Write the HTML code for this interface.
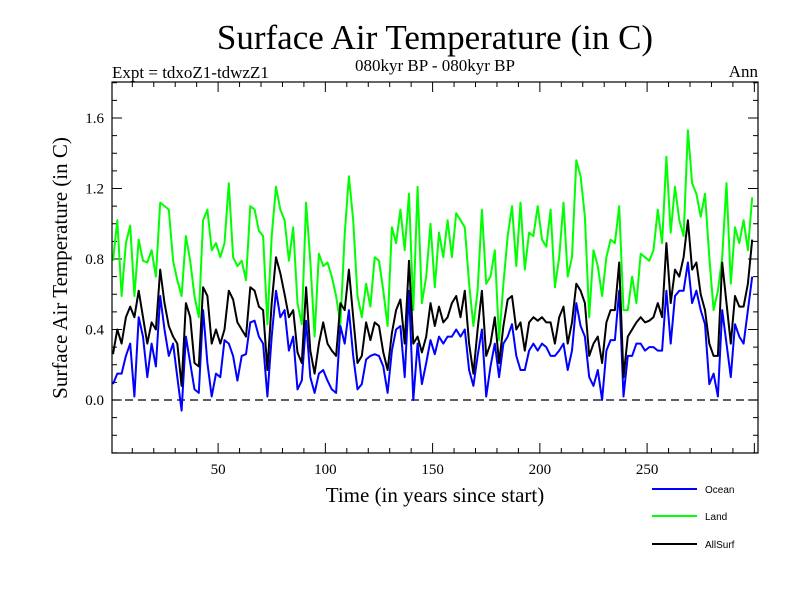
<!DOCTYPE html>
<html><head><meta charset="utf-8"><style>
body{margin:0;background:#fff;}
svg{display:block;font-family:"Liberation Serif",serif;}
</style></head><body>
<svg id="chart" width="800" height="600" viewBox="0 0 800 600">
<rect width="800" height="600" fill="#fff"/>
<text x="435" y="49" font-size="35" text-anchor="middle">Surface Air Temperature (in C)</text>
<text x="112" y="78" font-size="17">Expt = tdxoZ1-tdwzZ1</text>
<text x="435" y="71" font-size="17" text-anchor="middle">080kyr BP - 080kyr BP</text>
<text x="758" y="77" font-size="17" text-anchor="end">Ann</text>
<text x="435" y="502" font-size="21" text-anchor="middle">Time (in years since start)</text>
<text transform="translate(67,268) rotate(-90)" font-size="21" text-anchor="middle">Surface Air Temperature (in C)</text>
<g id="axes"></g>
<g id="series"></g>
<rect x="112" y="82" width="646" height="371" fill="none" stroke="#000" stroke-width="1.2"/>
<g font-family="Liberation Sans, sans-serif" font-size="10">
<g><line x1="652" y1="489" x2="697" y2="489" stroke="#0000ff" stroke-width="2"/><text x="705" y="493">Ocean</text></g>
<g><line x1="652" y1="516" x2="697" y2="516" stroke="#00ff00" stroke-width="2"/><text x="705" y="520">Land</text></g>
<g><line x1="652" y1="544" x2="697" y2="544" stroke="#000" stroke-width="2"/><text x="705" y="548">AllSurf</text></g>
</g>
</svg>
<script>
const yTickValues=[0.0,0.4,0.8,1.2,1.6];
const yTickLabels=["0.0","0.4","0.8","1.2","1.6"];
const xTickValues=[50,100,150,200,250];
const xTickLabels=["50","100","150","200","250"];
const land=[0.79,1.02,0.59,0.89,0.99,0.59,0.91,0.79,0.78,0.85,0.70,1.12,1.10,1.08,0.79,0.68,0.59,0.93,0.79,0.59,0.47,1.02,1.08,0.85,0.89,0.81,0.89,1.23,0.81,0.76,0.79,0.68,1.10,1.08,0.96,0.93,0.43,0.93,1.21,1.08,
1.02,0.79,0.98,0.55,0.43,1.12,0.79,0.36,0.83,0.76,0.78,0.70,0.59,0.43,0.94,1.27,1.02,0.59,0.47,0.66,0.53,0.81,0.79,0.62,0.42,0.98,0.89,1.08,0.85,1.17,0.51,1.21,0.55,0.70,1.00,0.64,0.95,0.81,1.02,
0.81,1.06,1.02,0.98,0.66,0.42,0.62,1.08,0.66,0.70,0.85,0.34,0.66,0.93,1.10,0.76,1.12,0.74,0.95,0.93,1.10,0.91,0.87,1.08,0.64,0.81,1.12,0.70,0.81,1.36,1.27,1.04,0.47,0.85,0.76,0.59,0.81,0.91,0.89,
1.10,0.51,0.51,0.70,0.55,0.83,0.81,0.79,0.85,1.08,0.89,1.38,0.95,1.21,1.02,0.93,1.53,1.23,1.17,1.04,1.17,0.81,0.51,0.62,0.81,1.23,0.66,0.98,0.89,1.02,0.85,1.15];
const allSurf=[0.26,0.40,0.32,0.47,0.53,0.47,0.62,0.47,0.32,0.44,0.40,0.74,0.55,0.42,0.36,0.32,0.08,0.55,0.47,0.21,0.19,0.64,0.59,0.32,0.40,0.32,0.40,0.62,0.57,0.44,0.40,0.36,0.64,0.62,0.53,0.51,0.17,0.55,0.81,0.72,
0.60,0.47,0.51,0.27,0.21,0.64,0.28,0.15,0.32,0.44,0.32,0.28,0.25,0.55,0.51,0.74,0.47,0.21,0.25,0.44,0.34,0.44,0.42,0.27,0.17,0.38,0.51,0.57,0.32,0.79,0.32,0.36,0.27,0.36,0.55,0.42,0.53,0.44,0.47,
0.55,0.59,0.47,0.62,0.32,0.15,0.40,0.62,0.25,0.32,0.47,0.21,0.42,0.57,0.59,0.40,0.44,0.28,0.44,0.47,0.45,0.47,0.44,0.44,0.32,0.47,0.53,0.32,0.44,0.66,0.62,0.55,0.25,0.32,0.36,0.21,0.44,0.51,0.51,
0.78,0.13,0.36,0.40,0.44,0.47,0.44,0.45,0.47,0.55,0.47,0.89,0.55,0.74,0.70,0.81,1.02,0.74,0.78,0.60,0.51,0.32,0.25,0.25,0.78,0.55,0.32,0.59,0.53,0.53,0.66,0.91];
const ocean=[0.09,0.15,0.15,0.25,0.32,0.02,0.47,0.36,0.13,0.32,0.19,0.59,0.40,0.25,0.32,0.13,-0.06,0.36,0.21,0.06,0.04,0.51,0.21,0.02,0.15,0.13,0.34,0.32,0.25,0.11,0.25,0.26,0.44,0.45,0.36,0.32,0.02,0.36,0.62,0.47,
0.51,0.28,0.36,0.06,0.11,0.45,0.13,0.04,0.15,0.17,0.11,0.06,0.04,0.42,0.32,0.51,0.25,0.06,0.09,0.23,0.25,0.26,0.25,0.19,0.04,0.28,0.40,0.42,0.13,0.62,0.00,0.32,0.09,0.21,0.34,0.26,0.36,0.32,0.36,
0.36,0.40,0.36,0.40,0.17,0.08,0.25,0.40,0.02,0.19,0.32,0.13,0.32,0.36,0.43,0.25,0.17,0.17,0.28,0.32,0.28,0.32,0.30,0.25,0.25,0.28,0.32,0.17,0.28,0.55,0.42,0.36,0.13,0.08,0.17,0.00,0.28,0.34,0.34,
0.62,0.02,0.25,0.25,0.32,0.32,0.28,0.30,0.30,0.28,0.28,0.62,0.32,0.59,0.62,0.62,0.78,0.55,0.62,0.51,0.43,0.09,0.15,0.02,0.51,0.32,0.13,0.43,0.36,0.32,0.51,0.70];
const years=land.map((_,i)=>1+2*i);

const NS="http://www.w3.org/2000/svg";
const X0=112,X1=758,Y0=82,Y1=453;
function xs(t){return 113+(t-1)*2.145;}
function ys(v){return 400-v*176.25;}
function mk(tag,attrs,parent){const e=document.createElementNS(NS,tag);for(const k in attrs)e.setAttribute(k,attrs[k]);parent.appendChild(e);return e;}
const axes=document.getElementById('axes');
// minor y ticks
for(let v=-0.3;v<=1.8001;v+=0.1){
  const y=ys(v);if(y<Y0||y>Y1)continue;
  const major=Math.abs(Math.round(v*10)%4)===0;
  const len=major?10:5;
  const t1=mk('line',{x1:X0,y1:y,x2:X0+len,y2:y,stroke:'#000','stroke-width':1},axes);
  
  
  const t2=mk('line',{x1:X1,y1:y,x2:X1-len,y2:y,stroke:'#000','stroke-width':1},axes);
  
  
}
yTickValues.forEach((v,i)=>{
  const t=mk('text',{x:104,y:ys(v)+5,'font-size':15,'text-anchor':'end'},axes);
  t.textContent=yTickLabels[i];
  
  
});
for(let t=10;t<=300;t+=10){
  const x=xs(t);if(x>X1)continue;
  const len=(t%50===0)?10:5;
  const a=mk('line',{x1:x,y1:Y1,x2:x,y2:Y1-len,stroke:'#000','stroke-width':1},axes);
  
  
  const b=mk('line',{x1:x,y1:Y0,x2:x,y2:Y0+len,stroke:'#000','stroke-width':1},axes);
  
  
}
xTickValues.forEach((v,i)=>{
  const t=mk('text',{x:xs(v),y:474,'font-size':15,'text-anchor':'middle'},axes);
  t.textContent=xTickLabels[i];
  
  
});
const zl=mk('line',{x1:X0,y1:ys(0),x2:X1,y2:ys(0),stroke:'#000','stroke-width':1.2,'stroke-dasharray':'8,5'},axes);


const sg=document.getElementById('series');
function draw(arr,color,name){
  const pts=arr.map((v,i)=>xs(years[i]).toFixed(1)+','+ys(v).toFixed(1)).join(' ');
  const p=mk('polyline',{points:pts,fill:'none',stroke:color,'stroke-width':2,'stroke-linejoin':'round'},sg);
  
  
}
draw(land,'#00ff00','land-line');
draw(ocean,'#0000ff','ocean-line');
draw(allSurf,'#000000','allsurf-line');
</script>
</body></html>
